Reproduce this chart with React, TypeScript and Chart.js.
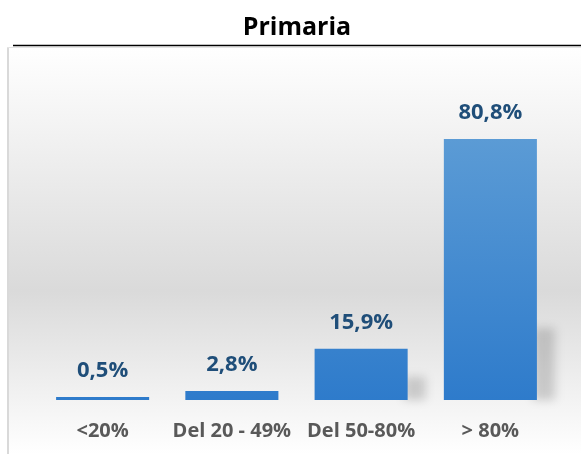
import React, { useEffect, useRef } from "react";
import { Chart, registerables } from "chart.js";

Chart.register(...registerables);

const chartTitle = "Primaria";
const categories = ["<20%", "Del 20 - 49%", "Del 50-80%", "> 80%"];
const values = [0.5, 2.8, 15.9, 80.8];
const valueLabels = ["0,5%", "2,8%", "15,9%", "80,8%"];
const yMin = 0;
const yMax = 100;

const FONT = "'Open Sans', 'DejaVu Sans', sans-serif";

const decorPlugin = {
  id: "decor",
  beforeDraw(chart: any) {
    const ctx = chart.ctx as CanvasRenderingContext2D;
    const { width, height } = chart;
    ctx.save();
    const g = ctx.createLinearGradient(0, 47, 0, height);
    g.addColorStop(0, "#ffffff");
    g.addColorStop(0.6, "#dadada");
    g.addColorStop(1, "#ffffff");
    ctx.fillStyle = g;
    ctx.fillRect(8, 47, width - 8, height - 47);
    ctx.fillStyle = "#d9d9d9";
    ctx.fillRect(7, 47, 2, height - 47);
    ctx.fillStyle = "#e4e4e4";
    ctx.fillRect(7, 47, width - 7, 1);
    ctx.strokeStyle = "#000000";
    ctx.lineWidth = 1.5;
    ctx.beginPath();
    ctx.moveTo(13, 45.5);
    ctx.lineTo(width, 45.5);
    ctx.stroke();
    ctx.font = `bold 25px ${FONT}`;
    ctx.fillStyle = "#000000";
    ctx.textAlign = "center";
    ctx.textBaseline = "alphabetic";
    ctx.fillText(chartTitle, 297, 35);
    ctx.restore();
  },
  beforeDatasetsDraw(chart: any) {
    const ctx = chart.ctx as CanvasRenderingContext2D;
    const meta = chart.getDatasetMeta(0);
    meta.data.forEach((el: any) => {
      const { x, y, base, width } = el.getProps(["x", "y", "base", "width"], true);
      const h = base - y;
      const sh = Math.min(h * 0.45, 72);
      if (sh > 6) {
        ctx.save();
        ctx.filter = "blur(5px)";
        ctx.fillStyle = "rgba(0,0,0,0.16)";
        ctx.fillRect(x + width / 2 - 4, base - sh, 22, sh);
        ctx.restore();
      }
      const g = ctx.createLinearGradient(0, y, 0, base);
      g.addColorStop(0, "#5b9bd5");
      g.addColorStop(1, "#2e7bcb");
      el.options.backgroundColor = g;
    });
  },
  afterDatasetsDraw(chart: any) {
    const ctx = chart.ctx as CanvasRenderingContext2D;
    const meta = chart.getDatasetMeta(0);
    ctx.save();
    ctx.font = `bold 22px ${FONT}`;
    ctx.fillStyle = "#1f4e79";
    ctx.textAlign = "center";
    ctx.textBaseline = "alphabetic";
    meta.data.forEach((el: any, i: number) => {
      const { x, y } = el.getProps(["x", "y"], true);
      ctx.fillText(valueLabels[i], x, y - 20);
    });
    ctx.restore();
  },
};

export default function App() {
  const ref = useRef<HTMLCanvasElement | null>(null);
  useEffect(() => {
    if (!ref.current) return;
    const chart = new Chart(ref.current, {
      type: "bar",
      data: {
        labels: categories,
        datasets: [
          {
            data: values,
            backgroundColor: "#3f88d1",
            borderWidth: 0,
            barPercentage: 0.72,
            categoryPercentage: 1,
            minBarLength: 3,
          },
        ],
      },
      options: {
        responsive: false,
        animation: false,
        layout: { padding: { left: 38, right: 26, top: 77, bottom: 11 } },
        plugins: {
          legend: { display: false },
          tooltip: { enabled: false },
          title: { display: false },
        },
        scales: {
          x: {
            grid: { display: false, drawTicks: false },
            border: { display: false },
            afterFit: (scale: any) => {
              scale.height = 43;
            },
            ticks: {
              color: "#595959",
              font: { family: FONT, weight: "bold", size: 20 },
              padding: 19,
              autoSkip: false,
              maxRotation: 0,
            },
          },
          y: {
            display: false,
            min: yMin,
            max: yMax,
          },
        },
      },
      plugins: [decorPlugin],
    });
    return () => chart.destroy();
  }, []);
  return (
    <div style={{ position: "fixed", left: 0, top: 0, width: 581, height: 454 }}>
      <canvas ref={ref} width={581} height={454} style={{ width: 581, height: 454 }} />
    </div>
  );
}
